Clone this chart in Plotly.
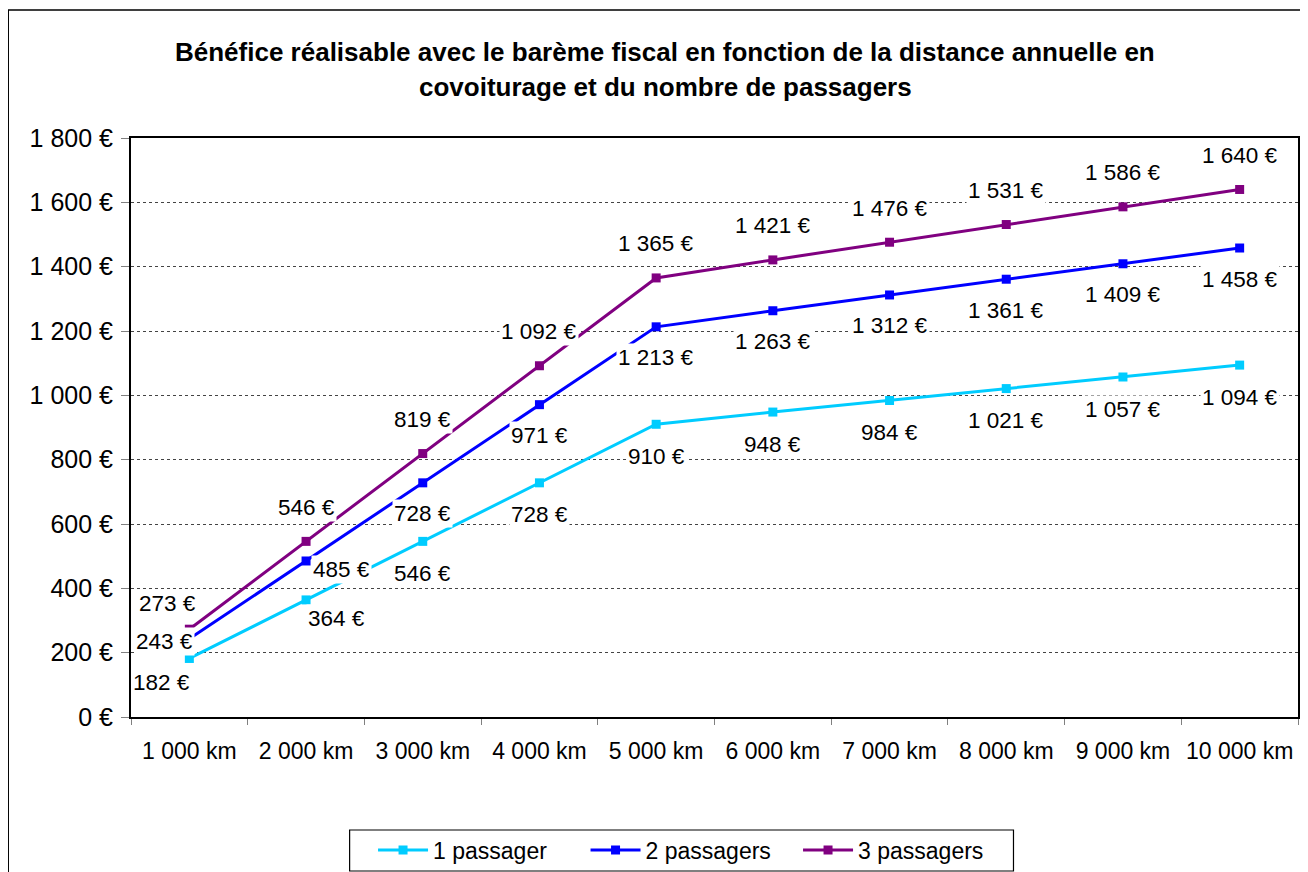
import plotly.graph_objects as go

categories = ["1 000 km", "2 000 km", "3 000 km", "4 000 km", "5 000 km",
              "6 000 km", "7 000 km", "8 000 km", "9 000 km", "10 000 km"]
p1 = [182, 364, 546, 728, 910, 948, 984, 1021, 1057, 1094]
p2 = [243, 485, 728, 971, 1213, 1263, 1312, 1361, 1409, 1458]
p3 = [273, 546, 819, 1092, 1365, 1421, 1476, 1531, 1586, 1640]
series_names = ["1 passager", "2 passagers", "3 passagers"]
y_ticks = [0, 200, 400, 600, 800, 1000, 1200, 1400, 1600, 1800]

colors = ["#00CCFF", "#0000FF", "#800080"]
# label offsets (xshift, yshift) in pixels, per series
offsets = [
    [(-28, -24), (30, -19)] + [(0, -32)] * 8,
    [(-25, -3), (35, -9)] + [(0, -31)] * 8,
    [(-22, 26)] + [(0, 34)] * 9,
]

FONT = "Liberation Sans, Arial, sans-serif"


def euro(v):
    return f"{v:,}".replace(",", " ") + " €"


fig = go.Figure()
for name, vals, col in zip(series_names, [p1, p2, p3], colors):
    fig.add_trace(go.Scatter(
        x=categories, y=vals, name=name, mode="lines+markers",
        line=dict(color=col, width=3),
        marker=dict(symbol="square", size=9, color=col),
    ))

annotations = []
for vals, offs in zip([p1, p2, p3], offsets):
    for c, v, (dx, dy) in zip(categories, vals, offs):
        annotations.append(dict(
            x=c, y=v, xref="x", yref="y", text=euro(v), showarrow=False,
            xshift=dx, yshift=dy, bgcolor="white", borderpad=1,
            font=dict(family=FONT, size=22.5, color="black"),
        ))

annotations.append(dict(
    x=0.458, y=1.1485, xref="paper", yref="paper", showarrow=False,
    text="<b>Bénéfice réalisable avec le barème fiscal en fonction de la distance annuelle en</b>",
    font=dict(family=FONT, size=26, color="black"), xanchor="center", yanchor="middle"))
annotations.append(dict(
    x=0.458, y=1.088, xref="paper", yref="paper", showarrow=False,
    text="<b>covoiturage et du nombre de passagers</b>",
    font=dict(family=FONT, size=26, color="black"), xanchor="center", yanchor="middle"))

shapes = [
    # outer chart border
    dict(type="rect", xref="paper", yref="paper",
         x0=-0.1052, x1=1.012, y0=-0.29, y1=1.2211,
         line=dict(color="black", width=1.5), fillcolor="rgba(0,0,0,0)",
         layer="below"),
    # legend box
    dict(type="rect", xref="paper", yref="paper",
         x0=0.18734, x1=0.75620, y0=-0.26598, y1=-0.19516,
         line=dict(color="black", width=1.2), fillcolor="white",
         layer="below"),
]

fig.update_layout(
    width=1300, height=864,
    margin=dict(l=123, r=8, t=130, b=155),
    paper_bgcolor="white", plot_bgcolor="white",
    font=dict(family=FONT, size=23, color="black"),
    showlegend=True,
    legend=dict(orientation="h", xref="container", yref="container",
                x=0.2808, y=0.0255, xanchor="left", yanchor="middle",
                borderwidth=0, bgcolor="rgba(0,0,0,0)",
                font=dict(family=FONT, size=23), itemwidth=50,
                entrywidth=147.5, entrywidthmode="pixels"),
    annotations=annotations,
    shapes=shapes,
)
fig.update_xaxes(
    type="category", showgrid=False, showline=True, linecolor="black", linewidth=2,
    mirror=True, ticks="outside", tickson="boundaries", ticklen=6, tickcolor="#808080",
    tickfont=dict(family=FONT, size=23), range=[-0.5, 9.5], ticklabelstandoff=12,
)
fig.update_yaxes(
    range=[0, 1800], tickvals=y_ticks, ticktext=[euro(v) for v in y_ticks],
    showgrid=True, gridcolor="#444444", griddash="dot", gridwidth=1,
    showline=True, linecolor="black", linewidth=2, mirror=True,
    ticks="outside", ticklen=8, tickcolor="#808080",
    tickfont=dict(family=FONT, size=25), zeroline=False, ticklabelstandoff=3,
)

fig.write_html("out.html")
